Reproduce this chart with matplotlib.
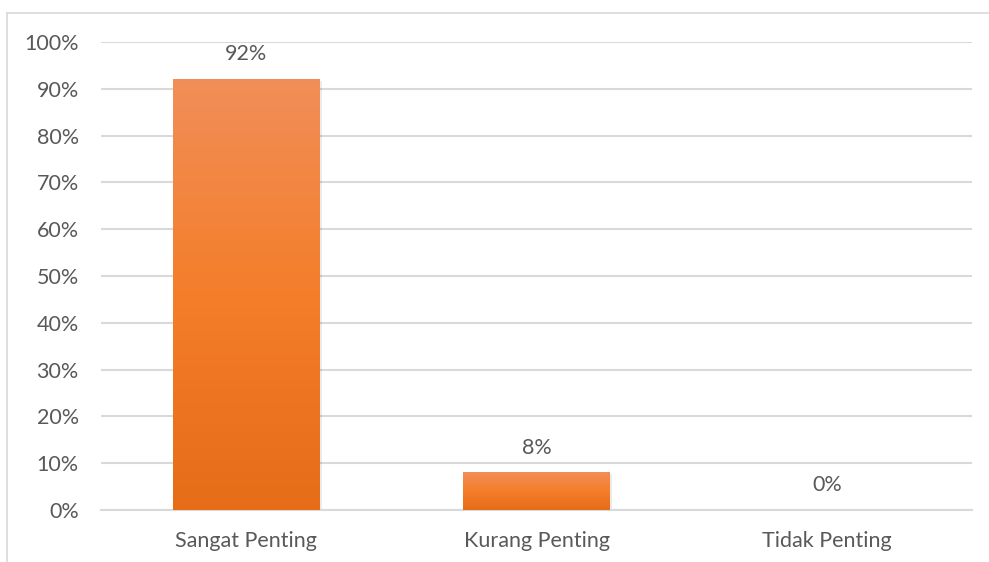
import matplotlib.pyplot as plt
import numpy as np
from matplotlib.colors import LinearSegmentedColormap
from matplotlib.lines import Line2D

categories = ['Sangat Penting', 'Kurang Penting', 'Tidak Penting']
values = [0.92, 0.08, 0.0]
labels = ['92%', '8%', '0%']
yticks = [i / 10 for i in range(11)]
ytick_labels = [f'{i * 10}%' for i in range(11)]

plt.rcParams['font.family'] = ['Lato', 'DejaVu Sans']
text_color = '#595959'
grid_color = '#D9D9D9'

fig = plt.figure(figsize=(9.89, 5.62), dpi=100)
W, H = 989, 562

# outer chart frame (only top and left edges visible)
fig.add_artist(Line2D([7 / W, 1], [1 - 13 / H, 1 - 13 / H], color=grid_color, lw=1.2))
fig.add_artist(Line2D([7 / W, 7 / W], [0, 1 - 13 / H], color=grid_color, lw=1.2))

ax = fig.add_axes([101 / W, 52 / H, (972 - 101) / W, (510 - 42) / H])

cmap = LinearSegmentedColormap.from_list('orange', ['#E66C18', '#F47E2A', '#F18E58'])
grad = np.linspace(0, 1, 256).reshape(-1, 1)

x = np.arange(len(categories))
width = 0.503
for xi, v, lab in zip(x, values, labels):
    if v > 0:
        # soft shadow
        ax.bar(xi + 0.004, v, width=width + 0.01, bottom=-0.003, color='#000000', alpha=0.08, zorder=2)
        ax.imshow(grad, extent=[xi - width / 2, xi + width / 2, 0, v], origin='lower',
                  aspect='auto', cmap=cmap, zorder=3)
    ax.annotate(lab, (xi, v), xytext=(0, 18), textcoords='offset points',
                ha='center', va='center', fontsize=15.5, color=text_color)

ax.set_xlim(-0.5, len(categories) - 0.5)
ax.set_ylim(0, 1)
ax.set_yticks(yticks)
ax.set_yticklabels(ytick_labels)
ax.set_xticks(x)
ax.set_xticklabels(categories)
ax.yaxis.grid(True, color=grid_color, lw=1.5)
ax.set_axisbelow(True)
ax.tick_params(axis='both', length=0, labelsize=15.5, labelcolor=text_color)
ax.tick_params(axis='y', pad=16)
ax.tick_params(axis='x', pad=15)
for s in ['top', 'right', 'left']:
    ax.spines[s].set_visible(False)
ax.spines['bottom'].set_color(grid_color)
ax.spines['bottom'].set_linewidth(1.5)

fig.savefig('out.png', dpi=100)
